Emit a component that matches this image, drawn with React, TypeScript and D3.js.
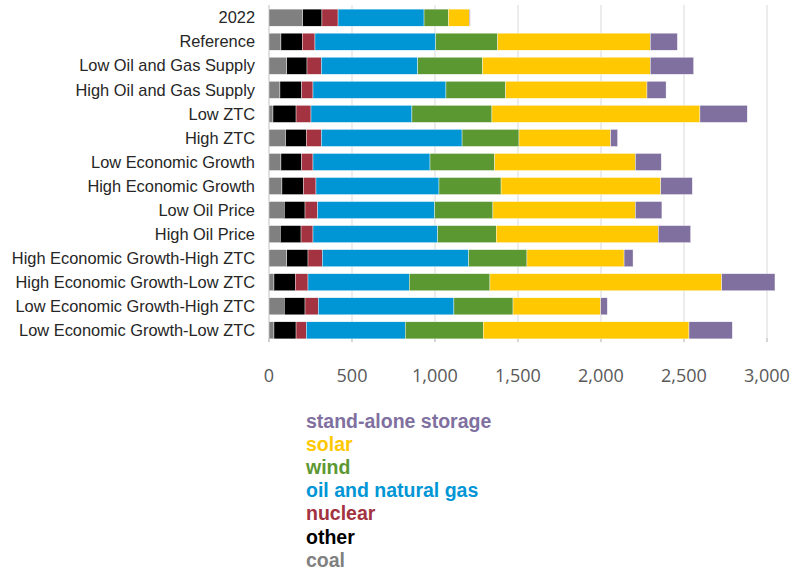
import React from "react";
import * as d3 from "d3";

const categories = [
  "2022",
  "Reference",
  "Low Oil and Gas Supply",
  "High Oil and Gas Supply",
  "Low ZTC",
  "High ZTC",
  "Low Economic Growth",
  "High Economic Growth",
  "Low Oil Price",
  "High Oil Price",
  "High Economic Growth-High ZTC",
  "High Economic Growth-Low ZTC",
  "Low Economic Growth-High ZTC",
  "Low Economic Growth-Low ZTC",
];

const coal = [203, 72, 107, 66, 24, 100, 72, 78, 92, 68, 107, 30, 92, 30];
const other = [116, 129, 122, 131, 139, 125, 125, 129, 125, 125, 128, 128, 125, 133];
const nuclear = [97, 76, 86, 68, 90, 90, 68, 76, 76, 72, 86, 77, 80, 62];
const oilGas = [518, 727, 581, 801, 608, 848, 705, 741, 705, 751, 882, 610, 817, 596];
const wind = [148, 374, 391, 360, 482, 343, 390, 374, 351, 353, 351, 486, 356, 470];
const solar = [125, 919, 1010, 851, 1253, 552, 847, 962, 858, 976, 585, 1396, 528, 1239];
const storage = [5, 163, 261, 115, 285, 42, 156, 190, 160, 195, 54, 321, 40, 261];

const seriesNames = ["coal", "other", "nuclear", "oil and natural gas", "wind", "solar", "stand-alone storage"];
const seriesValues = [coal, other, nuclear, oilGas, wind, solar, storage];
const seriesColors = ["#808080", "#000000", "#A33340", "#0096D6", "#5C9832", "#FFC800", "#8070A0"];
const legendOrder = [6, 5, 4, 3, 2, 1, 0];
const xTicks = [0, 500, 1000, 1500, 2000, 2500, 3000];

export default function App() {
  const W = 794;
  const H = 572;
  const x = d3.scaleLinear().domain([0, 3000]).range([269, 767]);
  const y = d3.scaleBand<string>().domain(categories).range([5.5, 342.5]).paddingInner(0.29).paddingOuter(0.15);

  const rows = categories.map((c, i) => {
    const obj: any = { cat: c };
    seriesNames.forEach((s, j) => (obj[s] = seriesValues[j][i]));
    return obj;
  });
  const stacked = d3.stack<any>().keys(seriesNames)(rows);
  const fmt = d3.format(",");

  return (
    <svg width={W} height={H} style={{ position: "absolute", left: 0, top: 0, background: "#fff" }}>
      {xTicks.slice(1).map((t) => (
        <line key={"g" + t} x1={x(t)} x2={x(t)} y1={5} y2={342} stroke="#D9D9D9" strokeWidth={1} />
      ))}
      <line x1={x(0)} x2={x(0)} y1={5} y2={342} stroke="#BFBFBF" strokeWidth={1} />
      {xTicks.map((t) => (
        <line key={"t" + t} x1={x(t)} x2={x(t)} y1={338} y2={342} stroke="#BFBFBF" strokeWidth={1} />
      ))}
      {stacked.map((layer, j) => (
        <g key={layer.key} fill={seriesColors[j]}>
          {layer.map((d, i) => (
            <rect
              key={i}
              x={x(d[0])}
              y={y(categories[i])}
              width={Math.max(0, x(d[1]) - x(d[0]))}
              height={y.bandwidth()}
              stroke="#fff"
              strokeWidth={0.4}
            />
          ))}
        </g>
      ))}
      {categories.map((c) => (
        <text
          key={c}
          x={255}
          y={(y(c) as number) + y.bandwidth() / 2}
          dy="0.35em"
          textAnchor="end"
          fontFamily="Liberation Sans, Arial, sans-serif"
          fontSize={16.4}
          fill="#262626"
        >
          {c}
        </text>
      ))}
      {xTicks.map((t) => (
        <text
          key={"l" + t}
          x={x(t)}
          y={376}
          dy="0.35em"
          textAnchor="middle"
          fontFamily="Open Sans, Noto Sans, sans-serif"
          fontSize={18}
          fill="#595959"
        >
          {fmt(t)}
        </text>
      ))}
      {legendOrder.map((j, k) => (
        <text
          key={"lg" + j}
          x={306}
          y={428 + k * 23.1}
          fontFamily="Liberation Sans, Arial, sans-serif"
          fontWeight="bold"
          fontSize={19.5}
          fill={seriesColors[j]}
        >
          {seriesNames[j]}
        </text>
      ))}
    </svg>
  );
}
